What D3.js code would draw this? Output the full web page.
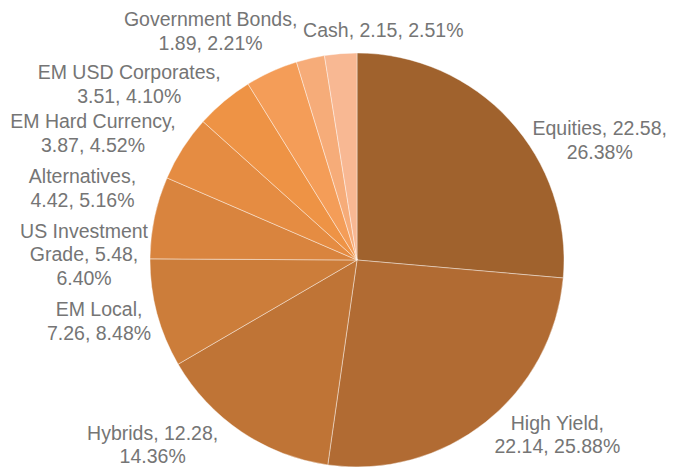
<!DOCTYPE html>
<html>
<head>
<meta charset="utf-8">
<script src="https://cdn.jsdelivr.net/npm/d3@7"></script>
<style>
  body { margin: 0; background: #fff; }
  svg text { font-family: "Liberation Sans", Arial, sans-serif; font-size: 19.5px; fill: #757575; }
</style>
</head>
<body>
<div id="chart"></div>
<script>
// chart data
var categories = ["Equities", "High Yield", "Hybrids", "EM Local", "US Investment Grade",
  "Alternatives", "EM Hard Currency", "EM USD Corporates", "Government Bonds", "Cash"];
var values = [22.58, 22.14, 12.28, 7.26, 5.48, 4.42, 3.87, 3.51, 1.89, 2.15];
var percents = ["26.38%", "25.88%", "14.36%", "8.48%", "6.40%", "5.16%", "4.52%", "4.10%", "2.21%", "2.51%"];

// slice colours, dark to light
var colors = ["#a0622d", "#b16b33", "#bf7436", "#cc7d3a", "#d9843e",
  "#e58c42", "#ee9345", "#f49d58", "#f6ac79", "#f8b893"];

// label wrapping: word counts after which a line breaks
var breaks = [[2], [2], [2], [2], [2, 4], [1], [3], [3], [2], []];
// label nudges away from the slice's mid-angle point
var nudges = [[68, 40], [53, -11], [-72, -12], [-29, 0], [-41, 43],
  [-75, 56], [-112, 55], [-130, 40], [-93, 2], [45, 6]];

var width = 675, height = 467;
var cx = 357, cy = 260, radius = 207;
var lineH = 23.5;

var svg = d3.select("#chart").append("svg")
  .attr("width", width).attr("height", height);

var g = svg.append("g").attr("transform", "translate(" + cx + "," + cy + ")");

var data = categories.map(function (c, i) {
  return { name: c, value: values[i], pct: percents[i], i: i };
});

var pie = d3.pie().sort(null).value(function (d) { return d.value; });
var arc = d3.arc().innerRadius(0).outerRadius(radius);
var arcs = pie(data);

g.selectAll("path.slice").data(arcs).enter().append("path")
  .attr("class", "slice")
  .attr("d", arc)
  .attr("fill", function (d) { return colors[d.data.i]; })
  .attr("stroke", "rgba(255,255,255,0.55)")
  .attr("stroke-width", 0.75);

// labels
var labelR = radius + 30;
arcs.forEach(function (d) {
  var i = d.data.i;
  var mid = (d.startAngle + d.endAngle) / 2;
  var x = labelR * Math.sin(mid) + nudges[i][0];
  var y = -labelR * Math.cos(mid) + nudges[i][1];

  var words = (d.data.name + ", " + d.data.value.toFixed(2) + ", " + d.data.pct).split(" ");
  var lines = [], cur = [];
  words.forEach(function (w, k) {
    cur.push(w);
    if (breaks[i].indexOf(k + 1) >= 0) { lines.push(cur.join(" ")); cur = []; }
  });
  if (cur.length) lines.push(cur.join(" "));

  var y0 = y - (lines.length - 1) * lineH / 2 + 7;
  var t = g.append("text").attr("text-anchor", "middle");
  lines.forEach(function (l, k) {
    t.append("tspan").attr("x", x).attr("y", y0 + k * lineH).text(l);
  });
});
</script>
</body>
</html>
